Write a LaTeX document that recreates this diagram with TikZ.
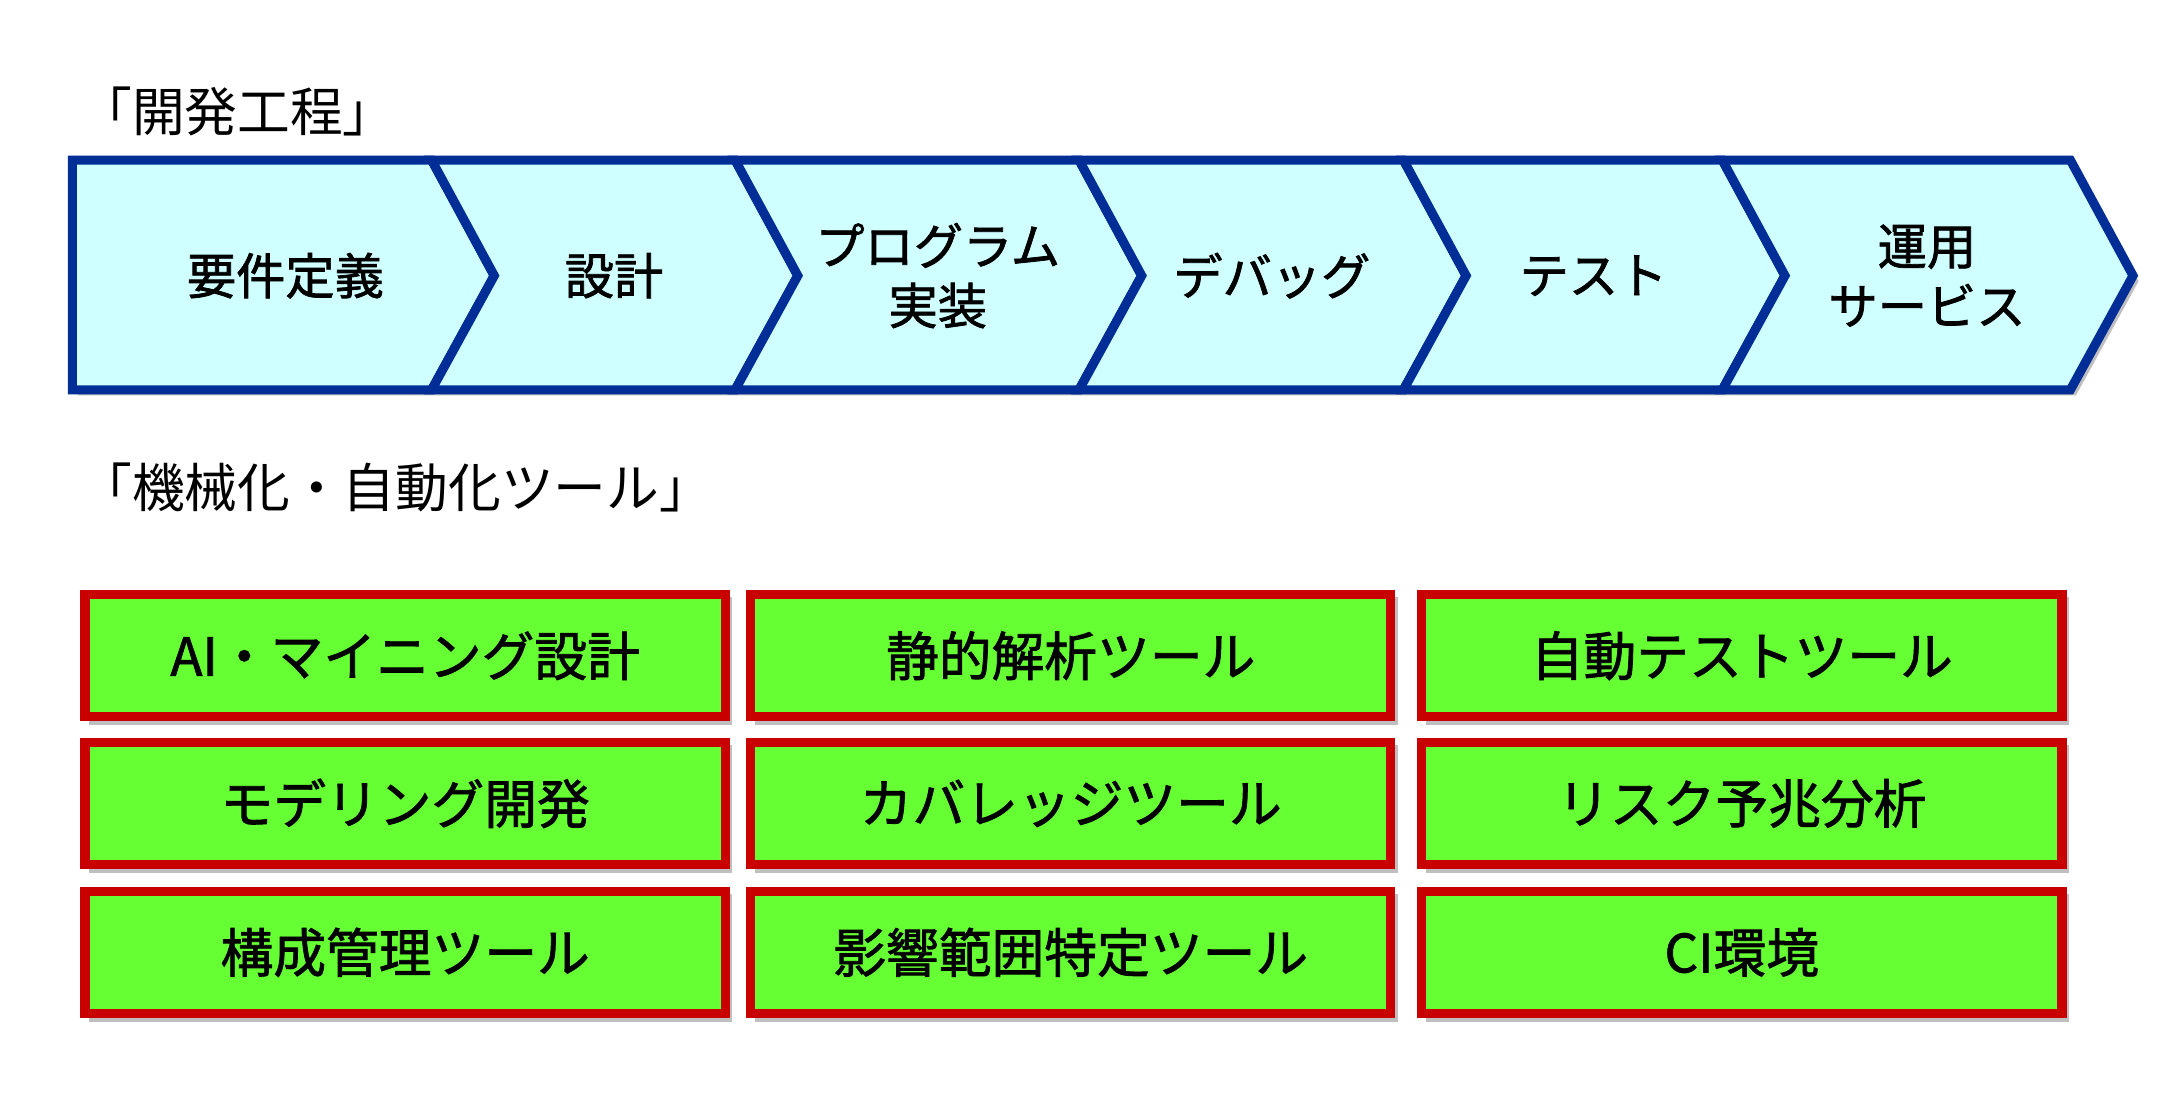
\documentclass[tikz,border=0pt]{standalone}
\usepackage{fontspec}
\setmainfont{Noto Sans CJK JP}
\newfontfamily\jpbold[FakeBold=1.5]{Noto Sans CJK JP}
\usepackage{tikz}
\usetikzlibrary{calc, positioning}
\definecolor{stepfill}{RGB}{208,255,255}
\definecolor{stepline}{RGB}{0,45,150}
\definecolor{toolfill}{RGB}{102,255,51}
\definecolor{toolline}{RGB}{200,0,0}
\tikzset{
  stepshape/.style={draw=stepline, line width=2.6pt, fill=stepfill, line join=miter},
  steplabel/.style={font=\jpbold\fontsize{14}{17}\selectfont, align=center},
  toolbox/.style={draw=toolline, line width=2.6pt, fill=toolfill, minimum width=6.4cm, minimum height=1.22cm,
    font=\jpbold\fontsize{15}{18}\selectfont, inner sep=0pt},
  heading/.style={font=\fontsize{15}{18}\selectfont, anchor=west}
}
\begin{document}
\begin{tikzpicture}[x=0.01392cm, y=-0.01392cm]
    \useasboundingbox (0,0) rectangle (1560,795);
    % Titles
    \node[heading] (title1) at (48,80) {「開発工程」};
    \node[heading] (title2) at (48,350) {「機械化・自動化ツール」};

    % Process chevrons
    \fill[gray!50] (56,119) -- (314,119) -- (359,202) -- (314,284) -- (56,284) -- cycle;
    \draw[stepshape] (52,115) -- (310,115) -- (355,198) -- (310,280) -- (52,280) -- cycle;
    \node[steplabel] (s1) at (205,198) {要件定義};
    \foreach \xa/\xb/\txt/\nm in {310/528/設計/s2, 528/775/{プログラム\\実装}/s3,
        775/1008/デバッグ/s4, 1008/1237/テスト/s5, 1237/1487/{運用\\サービス}/s6} {
        \fill[gray!50] (\xa+4,119) -- (\xb+4,119) -- (\xb+49,202) -- (\xb+4,284) -- (\xa+4,284) -- (\xa+49,202) -- cycle;
        \draw[stepshape] (\xa,115) -- (\xb,115) -- (\xb+45,198) -- (\xb,280) -- (\xa,280) -- (\xa+45,198) -- cycle;
        \node[steplabel] (\nm) at ({(\xa+\xb)/2+22},198) {\txt};
    }

    % Tool boxes
    \foreach \cx/\col in {291/a, 769/b, 1251/c} {
        \foreach \cy/\row in {471/1, 577/2, 684/3} {
            \fill[gray!50] (\cx-227,\cy-42) rectangle (\cx+235,\cy+50);
        }
    }
    \node[toolbox] (a1) at (291,471) {AI・マイニング設計};
    \node[toolbox] (a2) at (291,577) {モデリング開発};
    \node[toolbox] (a3) at (291,684) {構成管理ツール};
    \node[toolbox] (b1) at (769,471) {静的解析ツール};
    \node[toolbox] (b2) at (769,577) {カバレッジツール};
    \node[toolbox] (b3) at (769,684) {影響範囲特定ツール};
    \node[toolbox] (c1) at (1251,471) {自動テストツール};
    \node[toolbox] (c2) at (1251,577) {リスク予兆分析};
    \node[toolbox] (c3) at (1251,684) {CI環境};
\end{tikzpicture}
\end{document}
